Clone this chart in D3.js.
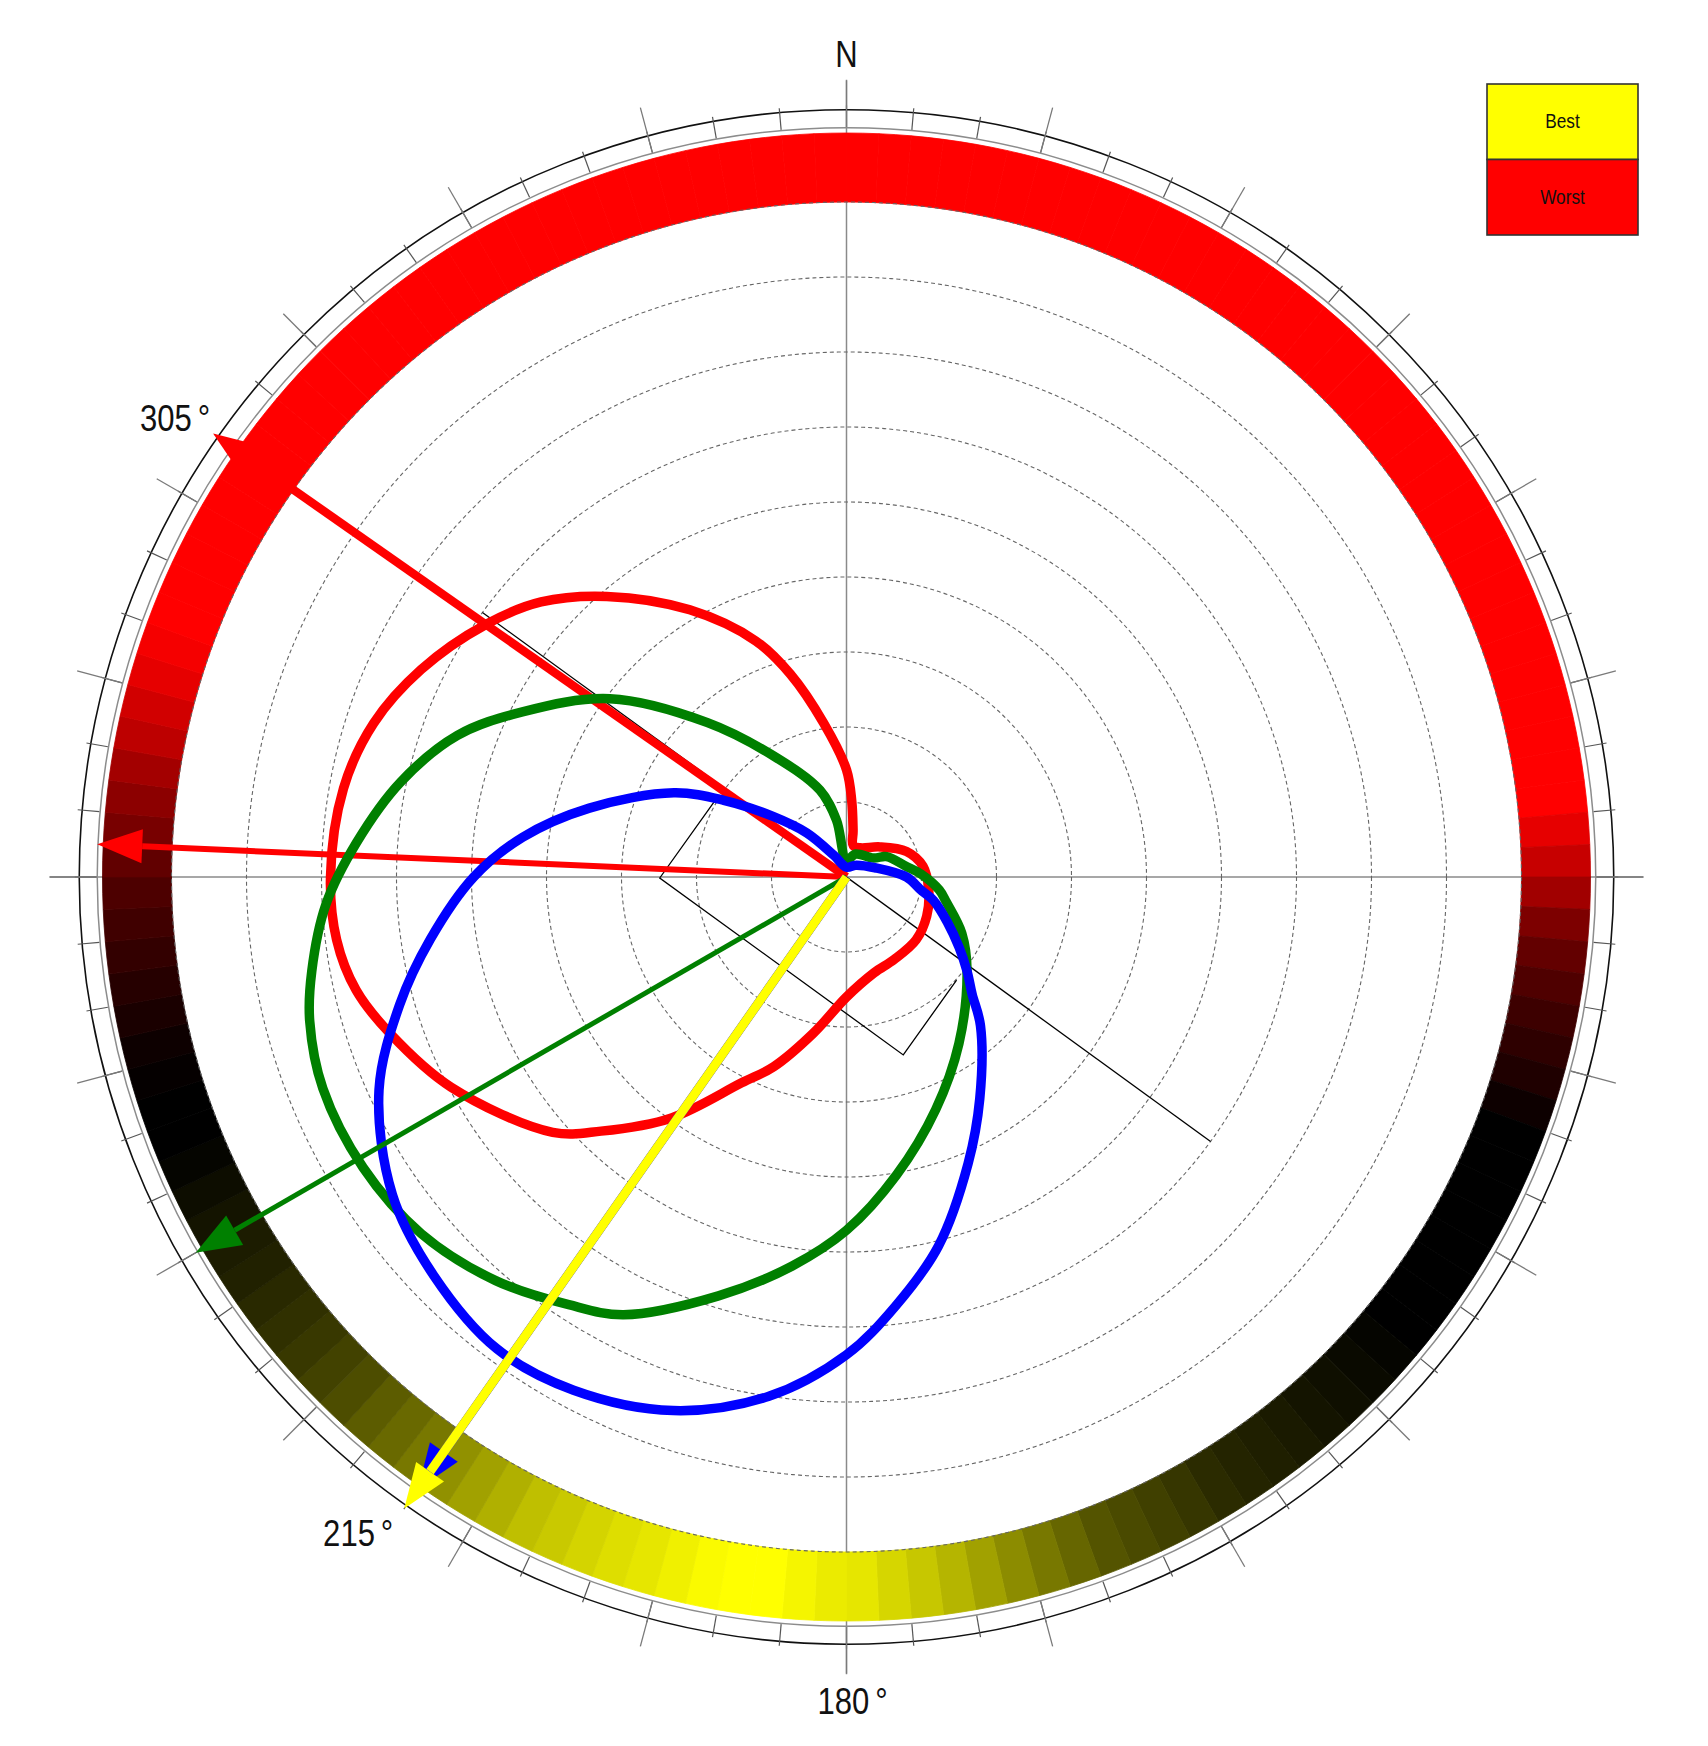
<!DOCTYPE html>
<html>
<head>
<meta charset="utf-8">
<script src="https://cdn.jsdelivr.net/npm/d3@7/dist/d3.min.js"></script>
<style>
  body { margin: 0; background: #ffffff; }
  text { font-family: "Liberation Sans", Arial, sans-serif; fill: #111; }
</style>
</head>
<body>
<div id="rose"></div>
<script>
// rating of each 2.5 degree sector, -1 = best (yellow), 0 = black, 1 = worst (red)
var sectorStep = 2.5
var bandScores = [
  1, 1, 1, 1, 1, 1, 1, 1, 1, 1, 1, 1, 1, 1, 1, 1, 1, 1, 1, 1, 1, 1, 1, 1,     // 0 - 60
  1, 1, 1, 1, 1, 1, 1, 1, 1, 1, 0.90, 0.78, 0.63, 0.49, 0.39, 0.31, 0.24, 0.18, 0.12, 0.05, // 60 - 110
  0, 0, 0, 0, 0, 0, 0, 0,                                                     // 110 - 130
  -0.02, -0.04, -0.06, -0.08, -0.10, -0.12, -0.14, -0.17, -0.21, -0.25, -0.29, -0.33,
  -0.40, -0.47, -0.55, -0.63, -0.71, -0.78, -0.84, -0.90,                     // 130 - 180
  -0.92, -0.96, -1, -1, -0.98, -0.94, -0.90, -0.87, -0.83, -0.79, -0.75, -0.69,
  -0.63, -0.57, -0.47, -0.41, -0.36, -0.30, -0.26, -0.22, -0.19, -0.16, -0.13, -0.11,
  -0.08, -0.05, -0.02, 0, 0, 0.02, 0.05, 0.10, 0.15, 0.20, 0.25, 0.30,        // 240 - 270
  0.38, 0.47, 0.55, 0.64, 0.74, 0.82, 0.90, 0.96,                             // 270 - 290
  1, 1, 1, 1, 1, 1, 1, 1, 1, 1, 1, 1, 1, 1, 1, 1, 1, 1, 1, 1, 1, 1, 1, 1, 1, 1, 1, 1  // 290 - 360
]
var ringValues = [1, 2, 3, 4, 5, 6, 7, 8, 9]

// polar curves: [bearing in degrees, distance in ring units]
var redCurve = [[0, 1.43], [4, 1.01], [8, 0.63], [12, 0.43], [25, 0.43], [48, 0.60], [67, 0.87],
  [82, 1.03], [99, 1.11], [116, 1.19], [132, 1.25], [150, 1.27], [164, 1.33], [180, 1.60],
  [192, 2.13], [201, 2.71], [207, 3.08], [216, 3.97], [224, 4.71], [229, 5.19], [242, 5.97],
  [251, 6.43], [257, 6.71], [263, 6.85], [270, 6.88], [280, 6.81], [288, 6.63], [296, 6.31],
  [305, 5.87], [312, 5.48], [319.5, 4.92], [329.6, 4.13], [339, 3.37], [344.5, 2.81], [351.6, 2.07]]
var greenCurve = [[0, 0.23], [22, 0.33], [55, 0.44], [63, 0.60], [80, 0.81], [88, 1.00], [98, 1.25],
  [104, 1.37], [116, 1.71], [128, 2.04], [146, 2.68], [159, 3.32], [170.5, 4.03], [180, 4.71],
  [188, 5.24], [197, 5.84], [207, 6.55], [213, 6.80], [221, 7.13], [230, 7.40], [239, 7.52],
  [248, 7.53], [255, 7.41], [260, 7.24], [267, 6.95], [274, 6.55], [282, 6.08], [290, 5.52],
  [297, 4.85], [307, 3.95], [318, 2.77], [329, 1.88], [343, 1.21], [350, 0.77]]
var blueCurve = [[0, 0.13], [38, 0.20], [72, 0.40], [90, 0.80], [100, 1.01], [105, 1.20], [114, 1.47],
  [122, 1.77], [128, 2.04], [133, 2.29], [138, 2.67], [149, 3.45], [157, 4.15], [166, 5.07],
  [173.5, 5.76], [180, 6.37], [188.5, 7.00], [198, 7.48], [208, 7.75], [216.5, 7.83], [226, 7.65],
  [235, 7.39], [245.5, 6.85], [254, 6.20], [261.5, 5.61], [270, 4.97], [277, 4.35], [285, 3.55],
  [296, 2.56], [302, 1.93], [309.5, 1.27], [318, 0.79], [330, 0.33]]

// direction arrows
var arrowSeries = ["red", "red", "green", "blue", "yellow"]
var arrowBearings = [305, 272.5, 240, 215, 215]
var arrowLengths = [10.31, 10.0, 10.02, 9.96, 10.28]
var labelBearings = [305, 215]

// building outline and its axis
var wallBearings = [299.6, 269.7, 162.3, 133.1]
var wallDistances = [2.03, 2.49, 2.49, 2.01]
var axisBearings = [306, 126]
var axisDistances = [6, 6]

var legendKeys = ["Best", "Worst"]

var colours = { red: "#ff0000", green: "#008000", blue: "#0000ff", yellow: "#ffff00" }
var widths = { red: 9.5, green: 9.5, blue: 9.5 }

var width = 1708, height = 1746
var cx = 846.5, cy = 877

var svg = d3.select("#rose").append("svg")
    .attr("width", width)
    .attr("height", height)
var g = svg.append("g").attr("transform", "translate(" + cx + "," + cy + ")")

var r = d3.scaleLinear().domain([0, 10]).range([0, 750])
var rate = d3.scaleLinear().domain([-1, 0, 1]).range(["#ffff00", "#000000", "#ff0000"])
var rad = function(b) { return b * Math.PI / 180 }
function pt(b, v) {
  var a = rad(b), rr = r(v)
  return [rr * Math.sin(a), -rr * Math.cos(a)]
}

// compass axes
g.append("line").attr("x1", -r(10.63)).attr("x2", r(10.63)).attr("y1", 0).attr("y2", 0)
  .attr("stroke", "#8a8a8a").attr("stroke-width", 1.5)
g.append("line").attr("y1", -r(10.63)).attr("y2", r(10.63)).attr("x1", 0).attr("x2", 0)
  .attr("stroke", "#8a8a8a").attr("stroke-width", 1.5)

// outer circles and ticks
g.append("circle").attr("r", r(9.99)).attr("fill", "none").attr("stroke", "#8c8c8c").attr("stroke-width", 1.5)
g.append("circle").attr("r", r(10.23)).attr("fill", "none").attr("stroke", "#111").attr("stroke-width", 1.6)
g.selectAll(".minor").data(d3.range(0, 360, 5)).enter().append("line")
  .attr("x1", function(d) { return pt(d, 10)[0] }).attr("y1", function(d) { return pt(d, 10)[1] })
  .attr("x2", function(d) { return pt(d, 10.29)[0] }).attr("y2", function(d) { return pt(d, 10.29)[1] })
  .attr("stroke", "#555").attr("stroke-width", 1.2)
g.selectAll(".major").data(d3.range(0, 360, 15)).enter().append("line")
  .attr("x1", function(d) { return pt(d, 10)[0] }).attr("y1", function(d) { return pt(d, 10)[1] })
  .attr("x2", function(d) { return pt(d, 10.62)[0] }).attr("y2", function(d) { return pt(d, 10.62)[1] })
  .attr("stroke", "#7a7a7a").attr("stroke-width", 1.3)

// rating band
var sectorArc = d3.arc().innerRadius(r(9)).outerRadius(r(9.92))
g.selectAll(".sector").data(bandScores).enter().append("path")
  .attr("d", function(d, i) {
    return sectorArc({ startAngle: rad(i * sectorStep), endAngle: rad((i + 1) * sectorStep) })
  })
  .attr("fill", function(d) { return rate(d) })
  .attr("stroke", function(d) { return rate(d) })
  .attr("stroke-width", 0.8)

// dashed rings
g.selectAll(".ring").data(ringValues).enter().append("circle")
  .attr("r", function(d) { return r(d) })
  .attr("fill", "none").attr("stroke", "#666").attr("stroke-width", 1.1)
  .attr("stroke-dasharray", "4,3")

// building outline + axis
var lineXY = d3.line()
g.append("path")
  .attr("d", lineXY(axisBearings.map(function(b, i) { return pt(b, axisDistances[i]) })))
  .attr("stroke", "#000").attr("stroke-width", 1.3).attr("fill", "none")
g.append("path")
  .attr("d", lineXY(wallBearings.map(function(b, i) { return pt(b, wallDistances[i]) })))
  .attr("stroke", "#000").attr("stroke-width", 1.3).attr("fill", "none")

// arrows
var headLen = 0.6, headHalf = 17
function drawArrow(i) {
  var b = arrowBearings[i], len = arrowLengths[i], col = colours[arrowSeries[i]]
  var a = rad(b)
  var tip = pt(b, len), base = pt(b, len - headLen)
  var px = Math.cos(a) * headHalf, py = Math.sin(a) * headHalf
  var lw = arrowSeries[i] == "red" ? (b > 300 ? 8.5 : 6) : (arrowSeries[i] == "green" ? 5 : 9)
  g.append("line").attr("x1", 0).attr("y1", 0).attr("x2", base[0]).attr("y2", base[1])
    .attr("stroke", col).attr("stroke-width", lw)
  g.append("path")
    .attr("d", "M" + tip + "L" + [base[0] + px, base[1] + py] + "L" + [base[0] - px, base[1] - py] + "Z")
    .attr("fill", col)
}
arrowSeries.forEach(function(s, i) { if (s == "red") drawArrow(i) })

// polar curves
var radial = d3.lineRadial()
  .angle(function(d) { return rad(d[0]) })
  .radius(function(d) { return r(d[1]) })
  .curve(d3.curveCatmullRomClosed.alpha(0.5))
var curves = [["red", redCurve], ["green", greenCurve], ["blue", blueCurve]]
curves.forEach(function(c) {
  g.append("path").attr("d", radial(c[1]))
    .attr("fill", "none").attr("stroke", colours[c[0]]).attr("stroke-width", widths[c[0]])
    .attr("stroke-linejoin", "round")
})

arrowSeries.forEach(function(s, i) { if (s != "red") drawArrow(i) })

// labels
function label(x, y, txt, anchor, deg) {
  var t = g.append("text")
    .attr("transform", "translate(" + x + "," + y + ") scale(0.84,1)")
    .attr("text-anchor", anchor)
    .style("font-size", "37px")
  t.append("tspan").text(txt)
  if (deg) t.append("tspan").attr("dx", 7).text("°")
}
label(0, -r(10.8), "N", "middle", false)
label(6, r(11.16), "180", "middle", true)
var t305 = pt(labelBearings[0], arrowLengths[0])
label(t305[0] - 3, t305[1] - 2, "305", "end", true)
var t215 = pt(labelBearings[1], arrowLengths[4])
label(t215[0] - 11, t215[1] + 37, "215", "end", true)

// legend
var legend = svg.append("g").attr("transform", "translate(1487,84)")
legend.selectAll("rect").data(legendKeys).enter().append("rect")
  .attr("x", 0).attr("y", function(d, i) { return i * 75.5 })
  .attr("width", 151).attr("height", 75.5)
  .attr("fill", function(d, i) { return i == 0 ? colours.yellow : colours.red })
  .attr("stroke", "#333").attr("stroke-width", 1.6)
legend.selectAll("text").data(legendKeys).enter().append("text")
  .attr("transform", function(d, i) { return "translate(75.5," + (44 + i * 75.5) + ") scale(0.82,1)" })
  .attr("text-anchor", "middle")
  .style("font-size", "21px")
  .text(function(d) { return d })
</script>
</body>
</html>
